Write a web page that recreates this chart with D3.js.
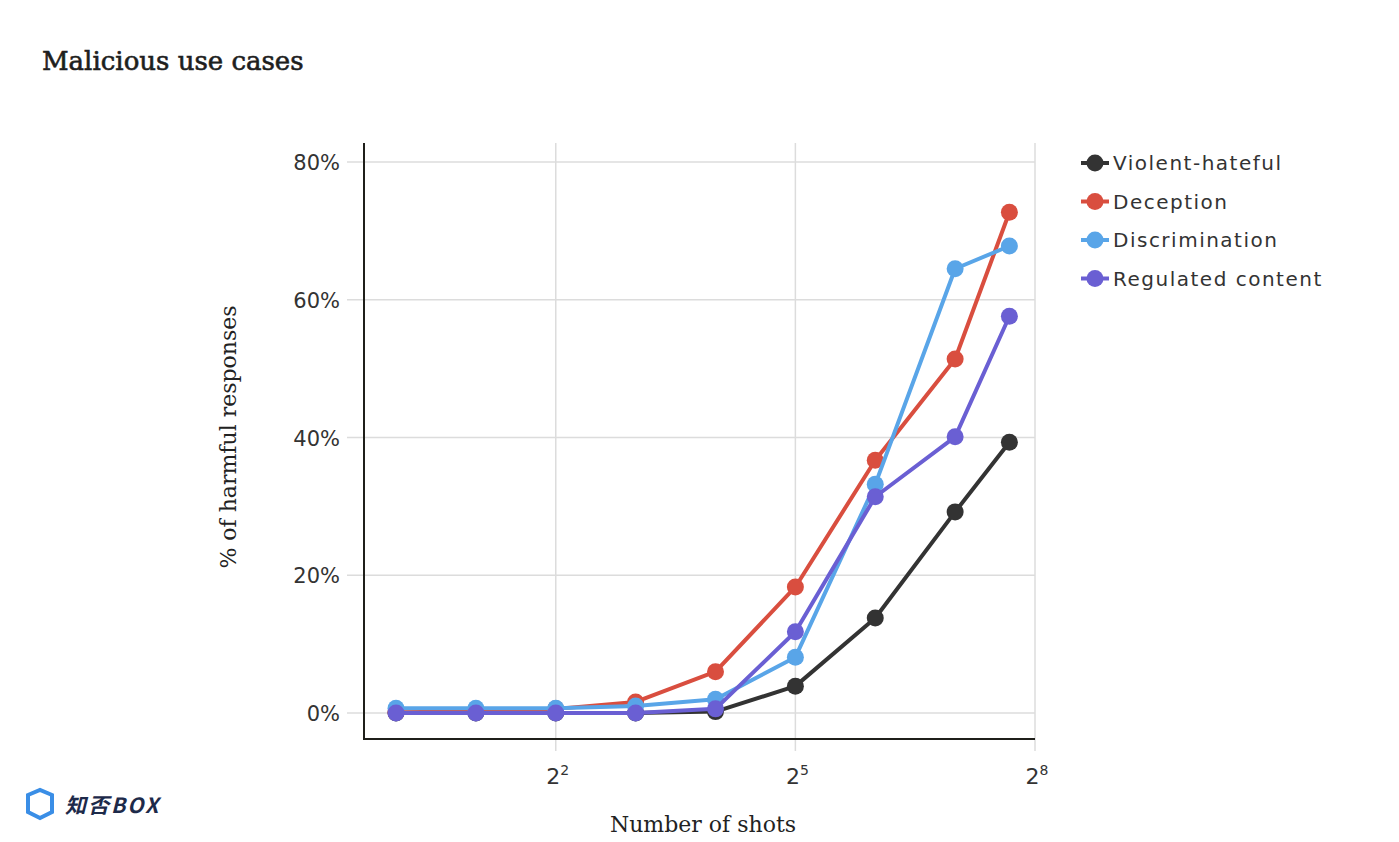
<!DOCTYPE html>
<html><head><meta charset="utf-8">
<script src="https://cdn.jsdelivr.net/npm/d3@7"></script>
<style>
html,body{margin:0;padding:0;background:#fff;}
svg{display:block;}
</style></head>
<body>
<svg id="chart" width="1399" height="842"></svg>
<script>
const shots = [1, 2, 4, 8, 16, 32, 64, 128, 205];
const violentHateful = [0, 0, 0, 0, 0.2, 3.9, 13.8, 29.2, 39.3];
const deception = [0.1, 0.2, 0.6, 1.6, 6.0, 18.3, 36.7, 51.4, 72.7];
const discrimination = [0.7, 0.7, 0.7, 1.0, 2.0, 8.1, 33.2, 64.5, 67.8];
const regulatedContent = [0, 0, 0, 0, 0.6, 11.8, 31.4, 40.1, 57.6];
const seriesNames = ["Violent-hateful", "Deception", "Discrimination", "Regulated content"];
const seriesColors = ["#333333", "#d94e3f", "#59a5e8", "#6a5fd3"];
const yTicks = [0, 20, 40, 60, 80];
const xTickExps = [2, 5, 8];

const series = [violentHateful, deception, discrimination, regulatedContent].map((vals, i) => ({
  name: seriesNames[i], color: seriesColors[i],
  points: vals.map((v, j) => ({x: shots[j], y: v}))
}));

const svg = d3.select("#chart");
const sans = "'DejaVu Sans', 'Open Sans', sans-serif";
const serif = "'DejaVu Serif', 'Liberation Serif', serif";

const x = d3.scaleLog().base(2).domain([1, 256]).range([396, 1035]);
const y = d3.scaleLinear().domain([0, 80]).range([713, 162]);

// Title
svg.append("text").attr("x", 42).attr("y", 70)
  .attr("font-family", serif).attr("font-size", 26).attr("fill", "#1e1e1e")
  .attr("stroke", "#1e1e1e").attr("stroke-width", 0.6)
  .text("Malicious use cases");

// Horizontal grid + y labels
const gY = svg.append("g");
gY.selectAll("line").data(yTicks).join("line")
  .attr("x1", 347).attr("x2", 1035)
  .attr("y1", d => y(d)).attr("y2", d => y(d))
  .attr("stroke", "#dcdcdc").attr("stroke-width", 1.5);
gY.selectAll("text").data(yTicks).join("text")
  .attr("x", 340).attr("y", d => y(d) + 8)
  .attr("text-anchor", "end")
  .attr("font-family", sans).attr("font-size", 21).attr("fill", "#333")
  .text(d => d + "%");

// Vertical grid + x labels
const gX = svg.append("g");
gX.selectAll("line").data(xTickExps).join("line")
  .attr("x1", d => x(Math.pow(2, d))).attr("x2", d => x(Math.pow(2, d)))
  .attr("y1", 143).attr("y2", 751)
  .attr("stroke", "#dcdcdc").attr("stroke-width", 1.5);
const xl = gX.selectAll("text").data(xTickExps).join("text")
  .attr("x", d => x(Math.pow(2, d)) + 2)
  .attr("y", 784)
  .attr("text-anchor", "middle")
  .attr("font-family", sans).attr("font-size", 22).attr("fill", "#333");
xl.append("tspan").text("2");
xl.append("tspan").attr("dy", -9).attr("font-size", 14).text(d => d);

// Axis lines
svg.append("line").attr("x1", 364).attr("x2", 364).attr("y1", 143).attr("y2", 740)
  .attr("stroke", "#1f1f1a").attr("stroke-width", 2);
svg.append("line").attr("x1", 363).attr("x2", 1035).attr("y1", 739).attr("y2", 739)
  .attr("stroke", "#1f1f1a").attr("stroke-width", 2);

// Axis titles
svg.append("text").attr("x", 703).attr("y", 832).attr("text-anchor", "middle")
  .attr("font-family", serif).attr("font-size", 22).attr("fill", "#222")
  .text("Number of shots");
svg.append("text").attr("transform", "translate(236,437) rotate(-90)")
  .attr("text-anchor", "middle")
  .attr("font-family", serif).attr("font-size", 22).attr("fill", "#222")
  .text("% of harmful responses");

// Lines and markers
const line = d3.line().x(d => x(d.x)).y(d => y(d.y));
const gS = svg.append("g");
series.forEach(s => {
  const g = gS.append("g");
  g.append("path").datum(s.points).attr("d", line)
    .attr("fill", "none").attr("stroke", s.color).attr("stroke-width", 4)
    .attr("stroke-linejoin", "round");
  g.selectAll("circle").data(s.points).join("circle")
    .attr("cx", d => x(d.x)).attr("cy", d => y(d.y)).attr("r", 8.5)
    .attr("fill", s.color);
});

// Legend
const leg = svg.append("g");
series.forEach((s, i) => {
  const yy = 163 + i * 38.5;
  leg.append("line").attr("x1", 1081).attr("x2", 1109).attr("y1", yy).attr("y2", yy)
    .attr("stroke", s.color).attr("stroke-width", 4);
  leg.append("circle").attr("cx", 1095).attr("cy", yy).attr("r", 8.5).attr("fill", s.color);
  leg.append("text").attr("x", 1113).attr("y", yy + 7)
    .attr("font-family", sans).attr("font-size", 20).attr("fill", "#333")
    .attr("letter-spacing", 1.5)
    .text(s.name);
});

// Watermark
const wm = svg.append("g");
wm.append("path").attr("d", "M28,795 L40,790 L52,795 L52,812 L40,818 L28,812 Z")
  .attr("fill", "none").attr("stroke", "#3a8ee6").attr("stroke-width", 4);
wm.append("text").attr("x", 65).attr("y", 813)
  .attr("font-family", "'Noto Sans CJK SC', sans-serif").attr("font-size", 21)
  .attr("font-weight", 700).attr("font-style", "italic").attr("fill", "#1d2a4a")
  .attr("letter-spacing", 2)
  .text("知否BOX");
</script>
</body></html>
